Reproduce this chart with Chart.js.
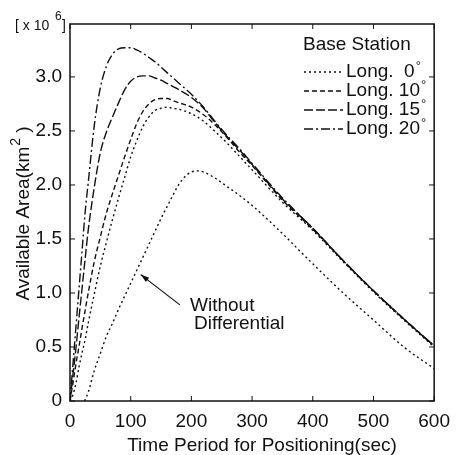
<!DOCTYPE html>
<html>
<head>
<meta charset="utf-8">
<script src="https://cdn.jsdelivr.net/npm/chart.js@4.4.1/dist/chart.umd.min.js"></script>
<style>
  body { margin: 0; background: #fff; }
</style>
</head>
<body>
<canvas id="c" width="459" height="455"></canvas>
<script>
// time axis (sec) shared by the four base station curves
const stationTime = [0, 5, 10, 15, 20, 25, 30, 40, 50, 60, 70, 80, 90, 100, 110, 120, 130, 140, 150,
  160, 170, 180, 200, 220, 240, 260, 280, 300, 350, 400, 450, 500, 550, 600];

// available area, x 10^6 km2
const long0 = [0, 0.06, 0.17, 0.32, 0.45, 0.57, 0.72, 0.99, 1.25, 1.47, 1.68, 1.88, 2.07, 2.26, 2.41, 2.54, 2.63, 2.69, 2.71,
  2.72, 2.71, 2.70, 2.66, 2.59, 2.49, 2.38, 2.26, 2.14, 1.84, 1.58, 1.29, 1.01, 0.75, 0.50];
const long10 = [0, 0.17, 0.35, 0.51, 0.68, 0.84, 1.0, 1.29, 1.52, 1.74, 1.92, 2.09, 2.26, 2.42, 2.57, 2.68, 2.75, 2.79, 2.80,
  2.80, 2.78, 2.76, 2.72, 2.65, 2.55, 2.43, 2.30, 2.18, 1.86, 1.59, 1.30, 1.02, 0.76, 0.51];
const long15 = [0, 0.25, 0.5, 0.78, 1.05, 1.32, 1.58, 1.98, 2.3, 2.49, 2.63, 2.76, 2.88, 2.96, 3.0, 3.01, 3.01, 2.99, 2.97,
  2.94, 2.91, 2.88, 2.81, 2.71, 2.57, 2.44, 2.32, 2.19, 1.87, 1.60, 1.30, 1.02, 0.76, 0.51];
const long20 = [0, 0.35, 0.7, 1.05, 1.4, 1.75, 2.02, 2.55, 2.9, 3.1, 3.21, 3.26, 3.27, 3.27, 3.25, 3.22, 3.18, 3.14, 3.09,
  3.04, 2.99, 2.94, 2.84, 2.72, 2.58, 2.45, 2.33, 2.20, 1.88, 1.60, 1.30, 1.02, 0.76, 0.51];

// curve without differential correction
const noDiffTime = [24, 30, 40, 50, 60, 70, 80, 90, 100, 110, 120, 130, 140, 150, 160, 170, 180, 190, 200, 210,
  220, 240, 260, 280, 300, 320, 350, 400, 450, 500, 550, 600];
const noDiff = [0, 0.08, 0.28, 0.44, 0.6, 0.72, 0.85, 0.97, 1.09, 1.21, 1.33, 1.45, 1.57, 1.69, 1.80, 1.91, 2.01, 2.08, 2.12, 2.13,
  2.12, 2.06, 1.98, 1.90, 1.81, 1.71, 1.55, 1.27, 1.00, 0.75, 0.50, 0.30];

const legendNames = ['Long.  0', 'Long. 10', 'Long. 15', 'Long. 20'];
const dashes = [[2, 3], [5, 3], [9, 3], [9, 3, 2, 3]];

const FONT = '"Liberation Sans", Arial, sans-serif';
const INK = '#111';

function pts(xs, ys) {
  return xs.map((t, i) => ({ x: t, y: ys[i] }));
}

const series = [long0, long10, long15, long20];
const datasets = series.map((s, i) => ({
  label: legendNames[i],
  data: pts(stationTime, s),
  borderDash: dashes[i]
}));
datasets.push({ label: 'Without Differential', data: pts(noDiffTime, noDiff), borderDash: [2, 3] });

const decor = {
  id: 'decor',
  afterDraw(chart) {
    const { ctx, chartArea: a, scales: { x, y } } = chart;
    ctx.save();
    ctx.strokeStyle = INK;
    ctx.fillStyle = INK;
    ctx.setLineDash([]);

    // box + inward ticks
    ctx.lineWidth = 1.5;
    ctx.strokeRect(a.left, a.top, a.right - a.left, a.bottom - a.top);
    ctx.lineWidth = 1;
    ctx.beginPath();
    x.ticks.forEach(t => {
      const px = x.getPixelForValue(t.value);
      ctx.moveTo(px, a.bottom); ctx.lineTo(px, a.bottom - 5);
      ctx.moveTo(px, a.top); ctx.lineTo(px, a.top + 5);
    });
    y.ticks.forEach(t => {
      const py = y.getPixelForValue(t.value);
      ctx.moveTo(a.left, py); ctx.lineTo(a.left + 5, py);
      ctx.moveTo(a.right, py); ctx.lineTo(a.right - 5, py);
    });
    ctx.stroke();

    // exponent label
    ctx.textBaseline = 'middle';
    ctx.textAlign = 'left';
    ctx.font = '14px ' + FONT;
    ctx.fillText('[ x 10', 15, 26);
    ctx.font = '12px ' + FONT;
    ctx.fillText('6', 55, 17);
    ctx.font = '14px ' + FONT;
    ctx.fillText(']', 62, 26);

    // axis titles
    ctx.font = '19px ' + FONT;
    ctx.textAlign = 'center';
    ctx.fillText('Time Period for Positioning(sec)', 262, 446);

    ctx.save();
    ctx.translate(24, 214);
    ctx.rotate(-Math.PI / 2);
    ctx.textAlign = 'left';
    const t1 = 'Available Area(km';
    ctx.font = '19px ' + FONT;
    const w1 = ctx.measureText(t1).width;
    ctx.font = '14px ' + FONT;
    const w2 = ctx.measureText('2').width;
    ctx.font = '19px ' + FONT;
    const w3 = ctx.measureText(' )').width;
    let sx = -(w1 + w2 + w3) / 2;
    ctx.fillText(t1, sx, 0);
    ctx.font = '14px ' + FONT;
    ctx.fillText('2', sx + w1 + 1, -8);
    ctx.font = '19px ' + FONT;
    ctx.fillText(' )', sx + w1 + w2 + 1, 0);
    ctx.restore();

    // legend
    ctx.textAlign = 'left';
    ctx.font = '19px ' + FONT;
    ctx.fillText('Base Station', 303, 45);
    const rows = [72, 91, 110, 129];
    legendNames.forEach((n, i) => {
      ctx.lineWidth = 1.5;
      ctx.setLineDash(dashes[i]);
      ctx.beginPath();
      ctx.moveTo(304, rows[i]); ctx.lineTo(343, rows[i]);
      ctx.stroke();
      ctx.setLineDash([]);
      ctx.font = '19px ' + FONT;
      ctx.fillText(n, 346, rows[i]);
      const w = ctx.measureText(n).width;
      ctx.font = '13px ' + FONT;
      ctx.fillText('°', 346 + w + 1, rows[i] - 6);
    });

    // annotation
    ctx.font = '19px ' + FONT;
    ctx.fillText('Without', 190, 306);
    ctx.fillText('Differential', 194, 324);
    const x0 = x.getPixelForValue(181), y0 = y.getPixelForValue(0.89);
    const x1 = x.getPixelForValue(116.5), y1 = y.getPixelForValue(1.17);
    ctx.lineWidth = 1.2;
    ctx.beginPath();
    ctx.moveTo(x0, y0); ctx.lineTo(x1, y1);
    ctx.stroke();
    const ang = Math.atan2(y1 - y0, x1 - x0);
    ctx.beginPath();
    ctx.moveTo(x1, y1);
    ctx.lineTo(x1 - 9 * Math.cos(ang - 0.3), y1 - 9 * Math.sin(ang - 0.3));
    ctx.lineTo(x1 - 9 * Math.cos(ang + 0.3), y1 - 9 * Math.sin(ang + 0.3));
    ctx.closePath();
    ctx.fill();

    ctx.restore();
  }
};

Chart.defaults.font.family = FONT;
Chart.defaults.font.size = 19;
Chart.defaults.color = INK;

new Chart(document.getElementById('c'), {
  type: 'line',
  data: { datasets: datasets },
  options: {
    responsive: false,
    animation: false,
    devicePixelRatio: 1,
    layout: { padding: { top: 24, right: 18, left: 0, bottom: 0 } },
    elements: {
      point: { radius: 0 },
      line: { borderColor: INK, borderWidth: 1.4, cubicInterpolationMode: 'monotone', fill: false }
    },
    plugins: { legend: { display: false }, tooltip: { enabled: false } },
    scales: {
      x: {
        type: 'linear', min: 0, max: 600,
        grid: { display: false, drawTicks: false },
        border: { display: false },
        ticks: { stepSize: 100, padding: 9, maxRotation: 0 },
        afterFit: s => { s.height = 54; }
      },
      y: {
        min: 0, max: 3.49,
        grid: { display: false, drawTicks: false },
        border: { display: false },
        ticks: { stepSize: 0.5, padding: 8, callback: v => v === 0 ? '0' : v.toFixed(1) },
        afterBuildTicks: s => { s.ticks = s.ticks.filter(t => t.value <= 3.0001); },
        afterFit: s => { s.width = 70; }
      }
    }
  },
  plugins: [decor]
});
</script>
</body>
</html>
